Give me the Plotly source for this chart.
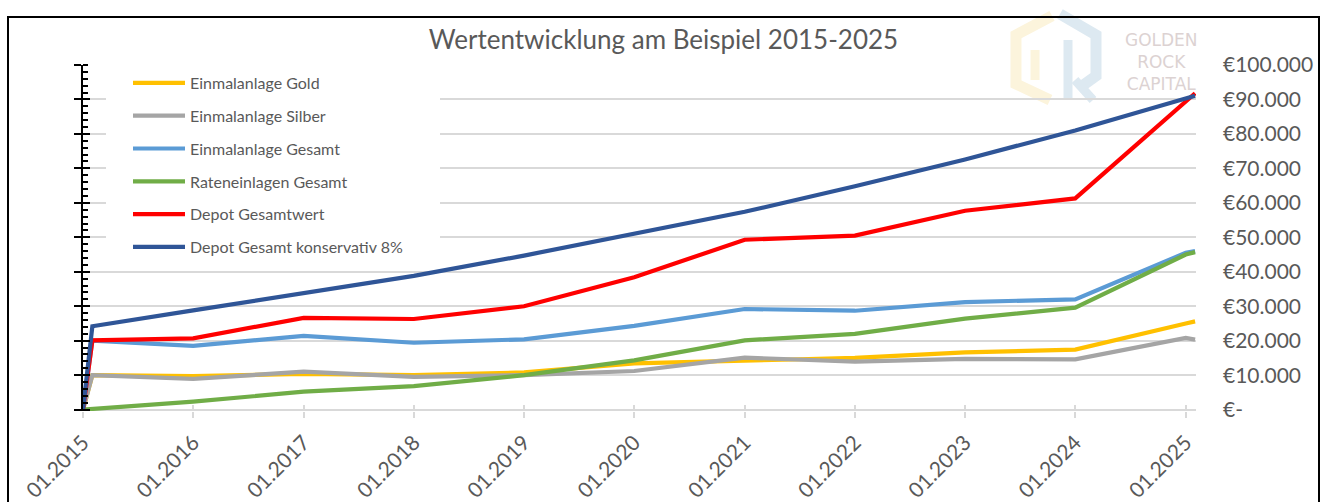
import pandas as pd
import plotly.graph_objects as go

# ---------------- data ----------------
dates = ["2015-01-01", "2015-02-01", "2016-01-01", "2017-01-01", "2018-01-01",
         "2019-01-01", "2020-01-01", "2021-01-01", "2022-01-01", "2023-01-01",
         "2024-01-01", "2025-01-01", "2025-02-01"]

gold =   [0, 10000,  9700, 10400, 10000, 10800, 13400, 14300, 15000, 16600, 17400, 25000, 25600]
silber = [0, 10000,  8900, 11000,  9500, 10000, 11200, 15100, 13900, 14700, 14600, 20800, 20300]
gesamt = [0, 20000, 18500, 21400, 19400, 20400, 24300, 29200, 28700, 31200, 32000, 45500, 46000]
raten =  [0,   200,  2300,  5200,  6800, 10000, 14300, 20100, 22000, 26400, 29600, 45000, 45700]
depot =  [0, 20100, 20700, 26600, 26300, 30000, 38400, 49300, 50500, 57700, 61300, 89500, 91800]
konserv = [0, 24200, 28800, 33700, 38800, 44700, 51000, 57400, 64800, 72600, 81000, 90400, 91100]

series_names = ["Einmalanlage Gold", "Einmalanlage Silber", "Einmalanlage Gesamt",
                "Rateneinlagen Gesamt", "Depot Gesamtwert", "Depot Gesamt konservativ 8%"]
series_values = [gold, silber, gesamt, raten, depot, konserv]
series_colors = ["#FFC000", "#A5A5A5", "#5B9BD5", "#70AD47", "#FF0000", "#2F5597"]

x_tick_vals = ["2015-01-01", "2016-01-01", "2017-01-01", "2018-01-01", "2019-01-01",
               "2020-01-01", "2021-01-01", "2022-01-01", "2023-01-01", "2024-01-01",
               "2025-01-01"]
x_tick_text = ["01.2015", "01.2016", "01.2017", "01.2018", "01.2019", "01.2020",
               "01.2021", "01.2022", "01.2023", "01.2024", "01.2025"]
y_tick_vals = [0, 10000, 20000, 30000, 40000, 50000, 60000, 70000, 80000, 90000, 100000]
y_tick_text = ["€-", "€10.000", "€20.000", "€30.000", "€40.000", "€50.000",
               "€60.000", "€70.000", "€80.000", "€90.000", "€100.000"]

title_text = "Wertentwicklung am Beispiel 2015-2025"
logo_lines = ["GOLDEN", "ROCK", "CAPITAL"]

# ---------------- layout geometry (pixels) ----------------
W, H = 1327, 502
L, R = 83, 1196
T, B = 65, 410.7
Y_RANGE = [-400, 100000]
X_RANGE = ["2015-01-01", "2025-02-04"]
FONT = "Lato"
TXT = "#595959"


def pxx(px):
    return (px - L) / (R - L)


def pxy(py):
    return (B - py) / (B - T)


_x0 = pd.Timestamp(X_RANGE[0])
_x1 = pd.Timestamp(X_RANGE[1])


def px_date(px):
    return (_x0 + (_x1 - _x0) * pxx(px)).strftime("%Y-%m-%d %H:%M:%S")


def px_val(py):
    return Y_RANGE[0] + (Y_RANGE[1] - Y_RANGE[0]) * pxy(py)


fig = go.Figure()

for name, vals, col in zip(series_names, series_values, series_colors):
    fig.add_trace(go.Scatter(
        x=dates, y=vals, name=name, mode="lines",
        line=dict(color=col, width=4.2),
        legendgroup=name,
    ))

# helper empty traces so the overlay axes are drawn
fig.add_trace(go.Scatter(x=[], y=[], yaxis="y2", showlegend=False, hoverinfo="skip"))
fig.add_trace(go.Scatter(x=[], y=[], yaxis="y3", showlegend=False, hoverinfo="skip"))
fig.add_trace(go.Scatter(x=[], y=[], xaxis="x2", showlegend=False, hoverinfo="skip"))

shapes = []
# white legend box (between gridlines and traces)
shapes.append(dict(type="rect", xref="x", yref="y",
                   x0=px_date(106), x1=px_date(440), y0=px_val(262), y1=px_val(67),
                   fillcolor="white", line=dict(width=0), layer="between"))


def path_px(points):
    s = ""
    for i, (a, b) in enumerate(points):
        s += ("M" if i == 0 else "L") + f"{pxx(a):.5f},{pxy(b):.5f} "
    return s


# faded logo (hexagon halves)
LOGO_Y = "#fcf4dc"
LOGO_B = "#dde9f1"
shapes.append(dict(type="path", xref="paper", yref="paper",
                   path=path_px([(1052, 16), (1016, 35), (1016, 84), (1050, 100)]),
                   line=dict(color=LOGO_Y, width=11), layer="below"))
shapes.append(dict(type="path", xref="paper", yref="paper",
                   path=path_px([(1035, 50), (1035, 80)]),
                   line=dict(color=LOGO_Y, width=9), layer="below"))
shapes.append(dict(type="path", xref="paper", yref="paper",
                   path=path_px([(1060, 14), (1096, 35), (1096, 76), (1082, 86)]),
                   line=dict(color=LOGO_B, width=11), layer="below"))
shapes.append(dict(type="path", xref="paper", yref="paper",
                   path=path_px([(1068, 40), (1068, 100)]),
                   line=dict(color=LOGO_B, width=9), layer="below"))
shapes.append(dict(type="path", xref="paper", yref="paper",
                   path=path_px([(1075, 80), (1093, 100)]),
                   line=dict(color=LOGO_B, width=9), layer="below"))
# black frame
shapes.append(dict(type="rect", xref="paper", yref="paper",
                   x0=pxx(8), x1=pxx(1319), y0=pxy(530), y1=pxy(17),
                   line=dict(color="black", width=2), fillcolor="rgba(0,0,0,0)", layer="above"))

annotations = [dict(text="<br>".join(logo_lines), xref="paper", yref="paper",
                    x=pxx(1161), y=pxy(62), xanchor="center", yanchor="middle",
                    align="center", showarrow=False,
                    font=dict(family="DejaVu Sans", size=17, color="#dcd2d2"))]

fig.update_layout(
    width=W, height=H,
    margin=dict(l=L, r=W - R, t=T, b=H - B, pad=0, autoexpand=False),
    paper_bgcolor="white",
    plot_bgcolor="rgba(0,0,0,0)",
    title=dict(text=title_text, x=0.5, xref="container", xanchor="center",
               y=1 - 40 / H, yref="container", yanchor="middle", automargin=False,
               font=dict(family=FONT, size=26, color=TXT)),
    xaxis=dict(type="date", range=X_RANGE, tickmode="array", tickvals=x_tick_vals,
               ticktext=x_tick_text, tickangle=-45, automargin=False,
               tickfont=dict(family=FONT, size=21, color=TXT),
               ticks="outside", ticklen=6, tickwidth=1.5, tickcolor="#d9d9d9",
               ticklabelstandoff=4,
               showgrid=False, zeroline=False, showline=False),
    xaxis2=dict(type="date", range=X_RANGE, overlaying="x", anchor="y", side="bottom",
                tickmode="array", tickvals=x_tick_vals, ticks="inside", ticklen=6,
                tickwidth=1.5, tickcolor="#d9d9d9", showticklabels=False, automargin=False,
                showgrid=False, zeroline=False, showline=False),
    yaxis=dict(range=Y_RANGE, tickmode="linear", tick0=0, dtick=10000, automargin=False,
               showticklabels=False, ticks="outside", ticklen=7, tickwidth=2,
               tickcolor="black", showline=True, linecolor="black", linewidth=2,
               showgrid=True, gridcolor="#d9d9d9", gridwidth=1.5, zeroline=False,
               minor=dict(ticks="inside", ticklen=5, tickwidth=1.5, tickcolor="black",
                          tick0=0, dtick=2000, showgrid=False)),
    yaxis3=dict(range=Y_RANGE, overlaying="y", side="left", anchor="x", automargin=False,
                tickmode="linear", tick0=0, dtick=10000, ticks="inside", ticklen=7,
                tickwidth=2, tickcolor="black", showticklabels=False,
                showgrid=False, zeroline=False, showline=False),
    yaxis2=dict(range=Y_RANGE, overlaying="y", side="right", anchor="x", automargin=False,
                tickmode="array", tickvals=y_tick_vals, ticktext=y_tick_text,
                tickfont=dict(family=FONT, size=21, color=TXT), ticks="",
                ticklabelstandoff=26, showgrid=False, zeroline=False, showline=False),
    legend=dict(x=pxx(128), xanchor="left", y=pxy(66), yanchor="top",
                bgcolor="rgba(0,0,0,0)", borderwidth=0, itemwidth=52,
                tracegroupgap=9, font=dict(family=FONT, size=16, color=TXT)),
    shapes=shapes,
    annotations=annotations,
    showlegend=True,
)

fig.write_html("out.html", config={"displayModeBar": False},
               post_script="document.body.style.margin='0px';")
